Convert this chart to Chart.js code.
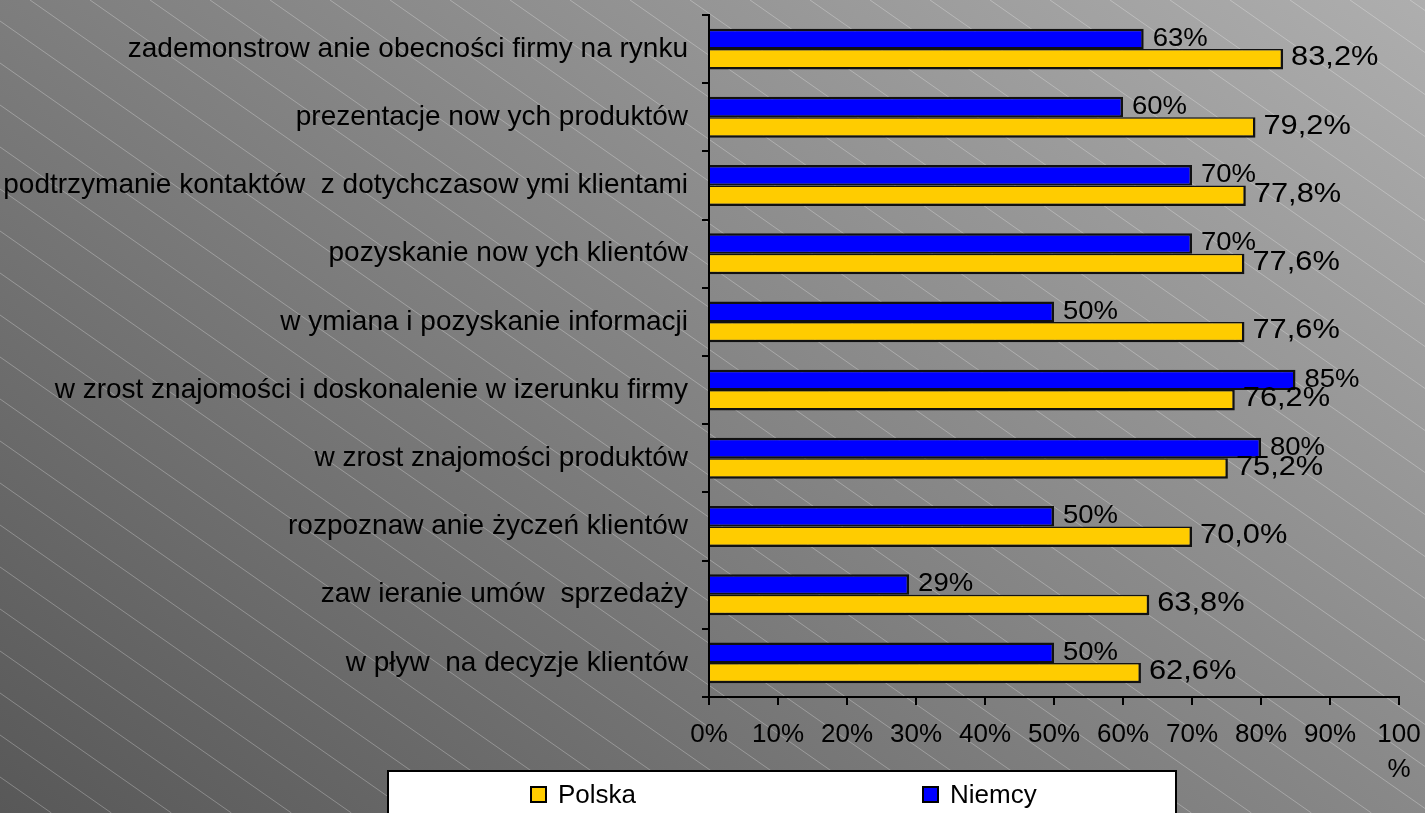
<!DOCTYPE html>
<html>
<head>
<meta charset="utf-8">
<script src="https://cdn.jsdelivr.net/npm/chart.js@4/dist/chart.umd.min.js"></script>
<style>
  html, body { margin: 0; padding: 0; overflow: hidden; }
  #wrap { width: 1425px; height: 813px; position: relative; }
</style>
</head>
<body>
<div id="wrap"><canvas id="myChart"></canvas></div>
<script>
// Categories, top to bottom
const categories = [
    'zademonstrow anie obecności firmy na rynku',
    'prezentacje now ych produktów',
    'podtrzymanie kontaktów  z dotychczasow ymi klientami',
    'pozyskanie now ych klientów',
    'w ymiana i pozyskanie informacji',
    'w zrost znajomości i doskonalenie w izerunku firmy',
    'w zrost znajomości produktów',
    'rozpoznaw anie życzeń klientów',
    'zaw ieranie umów  sprzedaży',
    'w pływ  na decyzje klientów'
];

// Share of answers, %
const niemcy = [63, 60, 70, 70, 50, 85, 80, 50, 29, 50];
const polska = [83.2, 79.2, 77.8, 77.6, 77.6, 76.2, 75.2, 70.0, 63.8, 62.6];

// x axis ticks
const xTicks = [0, 10, 20, 30, 40, 50, 60, 70, 80, 90, 100];

const FONT = '"Liberation Sans", Arial, sans-serif';

// gradient + diagonal hatching behind everything
const background = {
    id: 'background',
    beforeDraw(chart) {
        const { ctx, width, height } = chart;
        ctx.save();
        const cx = width / 2, cy = height / 2;
        const ux = 0.595, uy = -0.803;
        const g = ctx.createLinearGradient(cx - 750 * ux, cy - 750 * uy, cx + 750 * ux, cy + 750 * uy);
        g.addColorStop(0, '#585858');
        g.addColorStop(1, '#aeaeae');
        ctx.fillStyle = g;
        ctx.fillRect(0, 0, width, height);

        ctx.strokeStyle = 'rgba(255,255,255,0.28)';
        ctx.lineWidth = 1;
        const slope = 0.7;
        const run = height / slope;
        for (let x0 = -Math.ceil(run / 60) * 60 + 30; x0 < width; x0 += 60) {
            ctx.beginPath();
            ctx.moveTo(x0, 0);
            ctx.lineTo(x0 + run, height);
            ctx.stroke();
        }
        ctx.restore();
    }
};

// value labels at the end of each bar
const labelStyle = [
    { size: 25, stretch: 1.1, dx: 9, dy: 7, fmt: v => v + '%' },
    { size: 28, stretch: 1.1, dx: 8, dy: 6, fmt: v => v.toFixed(1).replace('.', ',') + '%' }
];

const barLabels = {
    id: 'barLabels',
    afterDatasetsDraw(chart) {
        const { ctx } = chart;
        ctx.save();
        ctx.fillStyle = '#000';
        ctx.textBaseline = 'alphabetic';
        ctx.textAlign = 'left';
        chart.data.datasets.forEach((ds, i) => {
            const st = labelStyle[i];
            ctx.font = st.size + 'px ' + FONT;
            chart.getDatasetMeta(i).data.forEach((bar, j) => {
                ctx.save();
                ctx.translate(bar.x + st.dx, bar.y + st.dy);
                ctx.scale(st.stretch, 1);
                ctx.fillText(st.fmt(ds.data[j]), 0, 0);
                ctx.restore();
            });
        });
        ctx.restore();
    }
};

// boxed legend under the axis, Polska first
const legendBox = {
    id: 'legendBox',
    afterDraw(chart) {
        const { ctx } = chart;
        ctx.save();
        ctx.fillStyle = '#fff';
        ctx.fillRect(388, 771, 788, 60);
        ctx.strokeStyle = '#000';
        ctx.lineWidth = 2;
        ctx.strokeRect(388, 771, 788, 60);

        const order = [1, 0];
        const xs = [531, 923];
        ctx.font = '26px ' + FONT;
        ctx.textBaseline = 'alphabetic';
        order.forEach((di, k) => {
            const ds = chart.data.datasets[di];
            ctx.fillStyle = ds.backgroundColor;
            ctx.fillRect(xs[k], 787, 15, 15);
            ctx.strokeStyle = '#000';
            ctx.lineWidth = 2;
            ctx.strokeRect(xs[k], 787, 15, 15);
            ctx.fillStyle = '#000';
            ctx.fillText(ds.label, xs[k] + 27, 803);
        });
        ctx.restore();
    }
};

const ctx = document.getElementById('myChart').getContext('2d');
const chart = new Chart(ctx, {
    type: 'bar',
    data: {
        labels: categories,
        datasets: [{
            label: 'Niemcy',
            data: niemcy,
            backgroundColor: '#0000ff',
            borderColor: '#111',
            borderWidth: { top: 2.5, right: 2.5, bottom: 2, left: 0 },
            borderSkipped: false,
            categoryPercentage: 0.6,
            barPercentage: 1.0
        }, {
            label: 'Polska',
            data: polska,
            backgroundColor: '#ffcc00',
            borderColor: '#111',
            borderWidth: { top: 1.5, right: 2.5, bottom: 2.5, left: 0 },
            borderSkipped: false,
            categoryPercentage: 0.6,
            barPercentage: 1.0
        }]
    },
    options: {
        indexAxis: 'y',
        responsive: true,
        maintainAspectRatio: false,
        animation: false,
        layout: { padding: { top: 15, right: 26, left: 0, bottom: 0 } },
        plugins: {
            legend: { display: false },
            tooltip: { enabled: false }
        },
        scales: {
            x: {
                min: 0,
                max: 100,
                afterBuildTicks: s => { s.ticks = xTicks.map(v => ({ value: v })); },
                ticks: {
                    color: '#000',
                    font: { family: FONT, size: 26, lineHeight: 1.35 },
                    padding: 12,
                    maxRotation: 0,
                    autoSkip: false,
                    callback: v => v === 100 ? ['100', '%'] : v + '%'
                },
                grid: { drawOnChartArea: false, color: '#000', lineWidth: 2, tickLength: 8 },
                border: { color: '#000', width: 2 },
                afterFit: s => {
                    s.height = 116;
                    s.paddingLeft = 0;
                    s.paddingRight = 0;
                }
            },
            y: {
                ticks: {
                    color: '#000',
                    font: { family: FONT, size: 28 },
                    padding: 14,
                    autoSkip: false
                },
                grid: { drawOnChartArea: false, color: '#000', lineWidth: 2, tickLength: 7, offset: true },
                border: { color: '#000', width: 2 },
                afterFit: s => {
                    s.width = 709;
                    s.paddingTop = 0;
                    s.paddingBottom = 0;
                }
            }
        }
    },
    plugins: [background, barLabels, legendBox]
});
</script>
</body>
</html>
